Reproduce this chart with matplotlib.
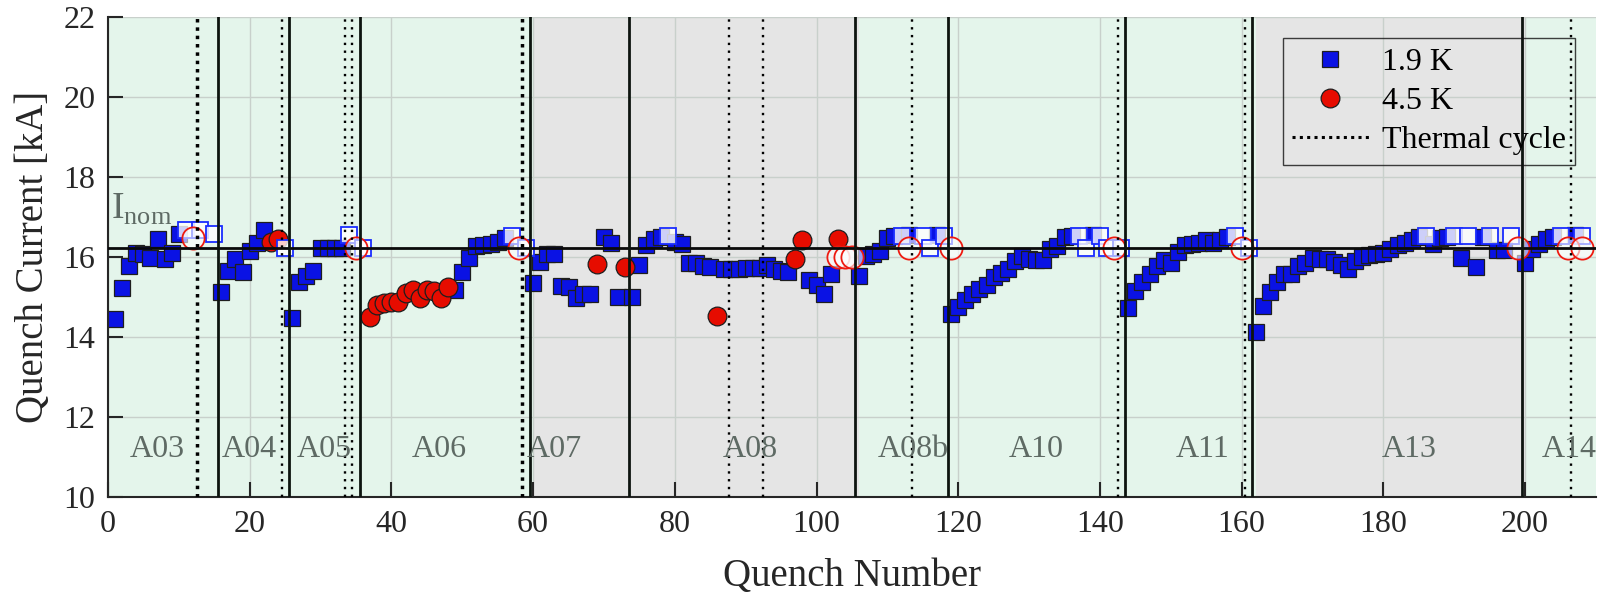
import matplotlib
matplotlib.use('Agg')
import matplotlib.pyplot as plt
from matplotlib.lines import Line2D

plt.rcParams['font.family'] = ['Liberation Serif', 'DejaVu Serif']
plt.rcParams['mathtext.fontset'] = 'custom'
plt.rcParams['mathtext.rm'] = 'Liberation Serif'

# ---------------- data ----------------
# 1.9 K quenches (filled squares)
sq_q = [1, 2, 3, 4, 5, 6, 7, 8, 9, 10,
        16, 17, 18, 19, 20, 21, 22,
        26, 27, 28, 29, 30, 31, 32, 33,
        49, 50, 51, 52, 53, 54, 55, 56,
        60, 61, 62, 63, 64, 65, 66, 67, 68, 70, 71, 72, 74, 75, 76, 77, 78, 80, 81,
        82, 83, 84, 85, 87, 88, 89, 90, 91, 92, 93, 94, 95, 96, 99, 100, 101, 102,
        106, 107, 108, 109, 110, 111, 113, 117,
        119, 120, 121, 122, 123, 124, 125, 126, 127, 128, 129, 130, 131, 132, 133, 134, 135, 136, 139,
        144, 145, 146, 147, 148, 149, 150, 151, 152, 153, 154, 155, 156, 157, 158,
        162, 163, 164, 165, 166, 167, 168, 169, 170, 171, 172, 173, 174, 175, 176, 177, 178, 179, 180,
        181, 182, 183, 184, 185, 187, 188, 189, 191, 193, 194, 196, 197,
        200, 201, 202, 203, 204, 207]
sq_v = [14.45, 15.23, 15.78, 16.09, 16.07, 15.98, 16.44, 15.96, 16.10, 16.57,
        15.12, 15.65, 15.95, 15.62, 16.16, 16.34, 16.67,
        14.47, 15.37, 15.53, 15.65, 16.22, 16.22, 16.22, 16.22,
        15.17, 15.63, 15.97, 16.28, 16.30, 16.32, 16.38, 16.47,
        15.35, 15.88, 16.08, 16.08, 15.27, 15.24, 14.97, 15.07, 15.07, 16.51, 16.36, 15.01, 15.01,
        15.80, 16.30, 16.46, 16.50, 16.37, 16.33,
        15.85, 15.84, 15.78, 15.76, 15.69, 15.69, 15.71, 15.72, 15.72, 15.72, 15.80, 15.69, 15.65,
        15.63, 15.42, 15.29, 15.07, 15.57,
        15.52, 16.03, 16.08, 16.16, 16.48, 16.53, 16.55, 16.55,
        14.57, 14.75, 14.92, 15.08, 15.20, 15.30, 15.50, 15.60, 15.70, 15.90, 16.03, 15.95, 15.93,
        15.93, 16.20, 16.27, 16.50, 16.52, 16.55,
        14.72, 15.15, 15.38, 15.57, 15.77, 15.92, 15.84, 16.13, 16.30, 16.32, 16.34, 16.42, 16.36,
        16.42, 16.51,
        14.12, 14.78, 15.13, 15.37, 15.57, 15.57, 15.78, 15.84, 15.97, 15.96, 15.96, 15.88, 15.80,
        15.70, 15.90, 16.00, 16.05, 16.07, 16.10,
        16.20, 16.30, 16.36, 16.42, 16.50, 16.32, 16.48, 16.50, 15.97, 15.76, 16.50, 16.17, 16.17,
        15.84, 16.20, 16.32, 16.44, 16.51, 16.55]

# 4.5 K quenches (filled circles)
circ_q = [23, 24, 37, 38, 39, 40, 41, 42, 43, 44, 45, 46, 47, 48, 69, 73, 86, 97, 98, 103]
circ_v = [16.38, 16.44, 14.51, 14.80, 14.84, 14.87, 14.87, 15.09, 15.17, 14.97, 15.17, 15.16,
          14.97, 15.26, 15.83, 15.74, 14.52, 15.96, 16.43, 16.46]

# 1.9 K, no quench (open squares)
osq_q = [11, 13, 15, 25, 34, 36, 57, 59, 79, 112, 115, 116, 118, 137, 138, 140, 141, 143,
         159, 161, 186, 190, 192, 195, 198, 205, 208]
osq_v = [16.67, 16.67, 16.57, 16.22, 16.55, 16.22, 16.53, 16.22, 16.52, 16.53, 16.53, 16.22, 16.53,
         16.53, 16.22, 16.53, 16.22, 16.22, 16.53, 16.22, 16.53, 16.53, 16.53, 16.53, 16.53,
         16.53, 16.53]

# 4.5 K, no quench (open circles)
ocirc_q = [12, 35, 58, 103, 104, 105, 113, 119, 142, 160, 199, 206, 208]
ocirc_v = [16.47, 16.22, 16.22, 15.99, 15.99, 15.99, 16.22, 16.22, 16.22, 16.22, 16.22, 16.22, 16.22]

i_nom = 16.23

magnet_names = ['A03', 'A04', 'A05', 'A06', 'A07', 'A08', 'A08b', 'A10', 'A11', 'A13', 'A14']
magnet_pos = [7, 20, 30.5, 46.7, 63, 90.6, 113.7, 131, 154.5, 183.6, 206.2]
magnet_bounds = [15.5, 25.5, 35.6, 59.6, 73.5, 105.5, 118.5, 143.5, 161.5, 199.5]
thermal_cycles = [12.5, 24.5, 33.4, 34.5, 58.5, 87.6, 92.5, 113.5, 142.5, 160.5, 206.5]
thermal_thick = [12.5, 58.5]

region_start = [0, 60, 106, 162, 200]
region_end = [60, 106, 162, 200, 210]
region_color = ['#e4f5eb', '#e5e5e5', '#e4f5eb', '#e5e5e5', '#e4f5eb']

# ---------------- figure ----------------
fig = plt.figure(figsize=(15.99, 5.95), dpi=100)
ax = fig.add_axes([0.0675, 0.1647, 0.9306, 0.8067])

for x0, x1, c in zip(region_start, region_end, region_color):
    ax.axvspan(x0, x1, color=c, lw=0, zorder=0)

ax.set_axisbelow(True)
ax.grid(True, color='#c8d0cb', lw=1.0)

blue = '#0a12e4'
red = '#e60c00'

ax.plot(sq_q, sq_v, ls='none', marker='s', ms=11.5, mfc=blue, mec='#1e1e1e', mew=0.9, zorder=2)
ax.plot(circ_q, circ_v, ls='none', marker='o', ms=13.5, mfc=red, mec='#1e1e1e', mew=0.9, zorder=3)
ax.plot(osq_q, osq_v, ls='none', marker='s', ms=11.5, mfc=(1, 1, 1, 0.8), mec='#1a2cff', mew=1.3, zorder=4)
ax.plot(ocirc_q, ocirc_v, ls='none', marker='o', ms=16, mfc=(1, 1, 1, 0.6), mec='#ee1a10', mew=1.3, zorder=5)

ax.axhline(i_nom, color='#0a0a0a', lw=2.0, zorder=6)
for x in magnet_bounds:
    ax.axvline(x, color='#0d140f', lw=2.0, zorder=6)
for x in thermal_cycles:
    if x in thermal_thick:
        ax.axvline(x, color='k', lw=2.5, ls=(0, (1, 1.4)), zorder=6)
    else:
        ax.axvline(x, color='k', lw=1.7, ls=(0, (1, 2.3)), zorder=6)

for name, x in zip(magnet_names, magnet_pos):
    ax.text(x, 11.2, name, ha='center', va='center', fontsize=23, color='#5e6a64', zorder=7)

ax.text(0.4, 16.95, r'$\mathrm{I}_{\mathrm{nom}}$', fontsize=27, color='#5e6a64', zorder=7,
        va='baseline', ha='left')

ax.set_xlim(0, 210)
ax.set_ylim(10, 22)
ax.set_xticks(range(0, 201, 20))
ax.set_yticks(range(10, 23, 2))

for s in ['top', 'right']:
    ax.spines[s].set_visible(False)
for s in ['left', 'bottom']:
    ax.spines[s].set_color('#262626')
    ax.spines[s].set_linewidth(1.5)
ax.tick_params(direction='in', length=11, width=1.5, labelsize=23, pad=9,
               color='#262626', labelcolor='#262626')

ax.set_xlabel('Quench Number', fontsize=28, color='#262626', labelpad=14)
ax.set_ylabel('Quench Current [kA]', fontsize=28, color='#262626', labelpad=8)

h1 = Line2D([], [], ls='none', marker='s', ms=11.5, mfc=blue, mec='#1e1e1e', mew=0.9)
h2 = Line2D([], [], ls='none', marker='o', ms=13.5, mfc=red, mec='#1e1e1e', mew=0.9)
h3 = Line2D([], [], color='k', lw=2.2, ls=(0, (1, 1.4)))
leg = ax.legend([h1, h2, h3], ['1.9 K', '4.5 K', 'Thermal cycle'], loc='upper right',
                bbox_to_anchor=(0.986, 0.956), fontsize=23, frameon=True, fancybox=False,
                edgecolor='#111111', handlelength=2.4, handletextpad=0.4, borderpad=0.3,
                labelspacing=0.3, borderaxespad=0)
leg.get_frame().set_facecolor('none')
leg.get_frame().set_linewidth(1.0)
leg.set_zorder(10)

fig.savefig('out.png', dpi=100)
